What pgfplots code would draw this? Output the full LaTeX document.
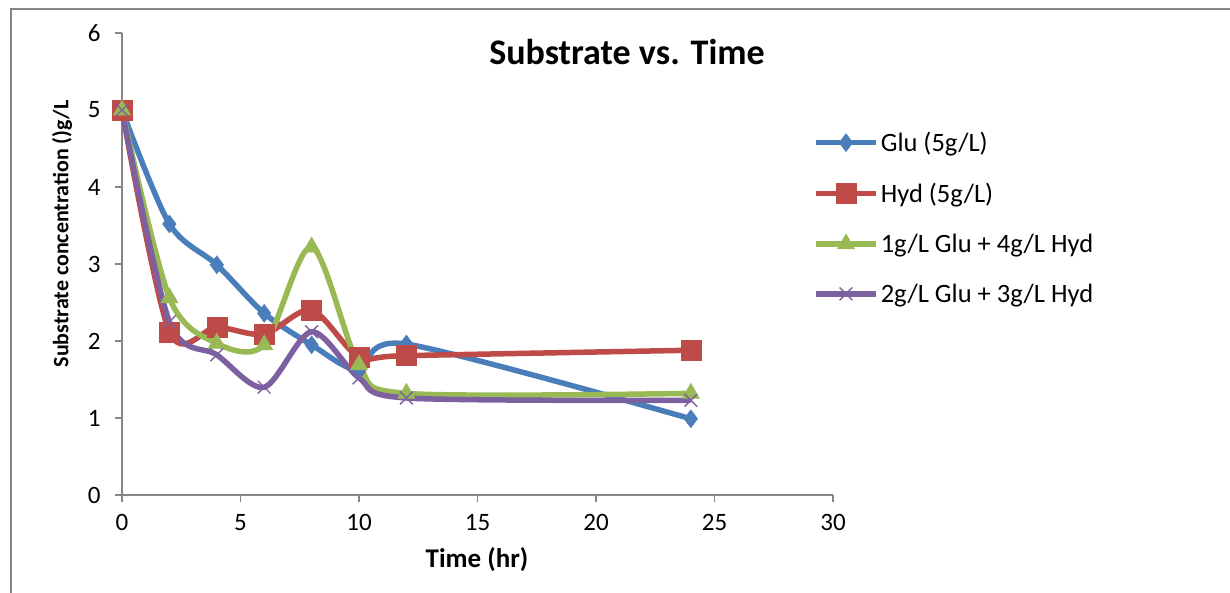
\documentclass[border=0pt]{standalone}
\usepackage{fontspec}
\setmainfont{Carlito}
\usepackage{pgfplots}
\pgfplotsset{compat=1.18}
\definecolor{cblue}{HTML}{4A7EBB}
\definecolor{cred}{HTML}{BE4B48}
\definecolor{cgreen}{HTML}{98B954}
\definecolor{cpurple}{HTML}{7D60A0}
\definecolor{axgray}{HTML}{868686}
\begin{document}
\begin{tikzpicture}
\useasboundingbox (0,0) rectangle (1230pt,592pt);
\draw[axgray, line width=1.5pt] (11pt,-5pt) -- (11pt,583pt) -- (1235pt,583pt);
\begin{axis}[
  at={(122pt,97pt)}, anchor=south west,
  scale only axis, width=711pt, height=462pt,
  xmin=0, xmax=30, ymin=0, ymax=6,
  xtick={0,5,10,15,20,25,30}, ytick={0,1,2,3,4,5,6},
  xticklabels={0,5,10,15,20,25,30},
  yticklabels={0,1,2,3,4,5,6},
  axis lines*=left,
  axis line style={axgray, line width=1.6pt},
  tick style={axgray, line width=1.6pt},
  tick align=outside, major tick length=7pt,
  xticklabel style={font=\fontsize{25}{30}\selectfont, text=black, yshift=-9pt},
  yticklabel style={font=\fontsize{25}{30}\selectfont, text=black, xshift=-11pt},
  clip=false,
  every axis plot/.append style={line width=5.5pt, smooth, tension=0.5},
  legend style={at={(0.972,0.79)}, anchor=north west, draw=none, fill=none,
    font=\fontsize{26.5}{31}\selectfont, row sep=26pt, inner sep=0pt,
    /tikz/every even column/.append style={column sep=2pt}},
  legend cell align=left,
  legend image code/.code={\draw[mark repeat=2,mark phase=2] plot coordinates {(0pt,0pt) (30pt,0pt) (60pt,0pt)};},
]
\addplot[cblue, mark=diamond*, mark size=9pt, mark options={solid, line width=0.5pt}] coordinates {
(0,5) (2,3.52) (4,2.99) (6,2.36) (8,1.95) (10,1.62) (12,1.96) (24,0.99)};
\addlegendentry{Glu (5g/L)}
\addplot[cred, mark=square*, mark size=10pt, mark options={solid, line width=0.5pt}] coordinates {
(0,5) (2,2.12) (4,2.18) (6,2.09) (8,2.40) (10,1.79) (12,1.81) (24,1.88)};
\addlegendentry{Hyd (5g/L)}
\addplot[cgreen, mark=triangle*, mark size=10pt, mark options={solid, line width=0.5pt}] coordinates {
(0,5) (2,2.56) (4,1.97) (6,1.95) (8,3.22) (10,1.69) (12,1.32) (24,1.32)};
\addlegendentry{1g/L Glu + 4g/L Hyd}
\addplot[cpurple, mark=x, mark size=9pt, mark options={solid, line width=1.4pt}] coordinates {
(0,5) (2,2.25) (4,1.82) (6,1.40) (8,2.12) (10,1.52) (12,1.26) (24,1.23)};
\addlegendentry{2g/L Glu + 3g/L Hyd}
\end{axis}
\node[font=\bfseries\fontsize{36}{42}\selectfont] at (627pt,540pt) {Substrate vs. Time};
\node[font=\bfseries\fontsize{27}{32}\selectfont] at (477pt,32pt) {Time (hr)};
\node[font=\bfseries\fontsize{22}{26}\selectfont, rotate=90] at (62pt,358pt) {Substrate concentration ()g/L};
\end{tikzpicture}
\end{document}
